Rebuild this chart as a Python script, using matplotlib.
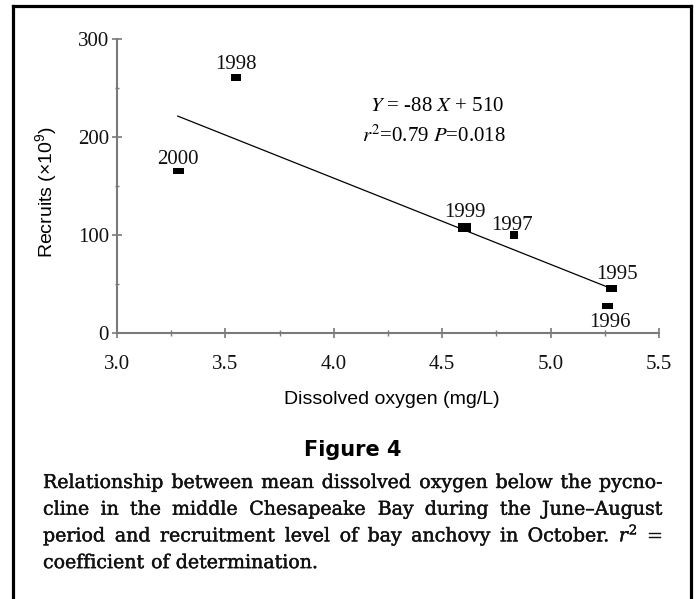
import matplotlib
matplotlib.use("Agg")
import matplotlib.pyplot as plt
import matplotlib.patheffects as pe
from matplotlib.path import Path
from matplotlib.lines import Line2D
from matplotlib.ticker import MultipleLocator, FormatStrFormatter

# ---------------- data ----------------
years = ["1995", "1996", "1997", "1998", "1999", "2000"]
oxygen = [5.28, 5.26, 4.83, 3.55, 4.60, 3.28]        # mg/L
recruits = [46, 28, 100, 261, 108, 165]             # x10^9
fit_slope = -88
fit_intercept = 510
fit_x_range = [3.28, 5.27]
x_ticks = [3.0, 3.5, 4.0, 4.5, 5.0, 5.5]
y_ticks = [0, 100, 200, 300]
equation_text = "$Y$ = -88 $X$ + 510"
stats_text = "$r^{2}$=0.79 $P$=0.018"
fig_title = "Figure 4"
caption_lines = [
    "Relationship between mean dissolved oxygen below the pycno-",
    "cline in the middle Chesapeake Bay during the June\u2013August",
    "period and recruitment level of bay anchovy in October. $r^{\\mathregular{2}}$ =",
    "coefficient of determination.",
]

# ---------------- styles ----------------
# marker (width, height) in pixels and label centre offsets (points) per year
marker_px = {"1995": (11, 7), "1996": (11, 6), "1997": (8, 8),
             "1998": (10, 7), "1999": (13, 9), "2000": (11, 6)}
label_off = {"1995": (4.3, 10), "1996": (2, -12.2), "1997": (-1.4, 7.2),
             "1998": (0, 9.4), "1999": (0.7, 10.8), "2000": (0, 8.6)}

W_PX, H_PX = 700, 599
DPI = 100
AX_COL = "#7a7a7a"
SERIF = "Liberation Serif"
SANS = "Liberation Sans"

plt.rcParams["font.family"] = [SERIF, "DejaVu Sans"]
plt.rcParams["mathtext.fontset"] = "custom"
plt.rcParams["mathtext.rm"] = SANS

fig = plt.figure(figsize=(W_PX / DPI, H_PX / DPI), dpi=DPI)
fig.patch.set_facecolor("white")

# axes placement (pixel measurements of reference)
ax_l, ax_r, ax_t, ax_b = 117, 659, 39, 333
ax = fig.add_axes([ax_l / W_PX, 1 - ax_b / H_PX, (ax_r - ax_l) / W_PX, (ax_b - ax_t) / H_PX])
ax.set_xlim(x_ticks[0], x_ticks[-1])
ax.set_ylim(y_ticks[0], y_ticks[-1])
for s in ("top", "right"):
    ax.spines[s].set_visible(False)
for s in ("left", "bottom"):
    ax.spines[s].set_color(AX_COL)
    ax.spines[s].set_linewidth(1.5)
ax.set_xticks(x_ticks)
ax.set_yticks(y_ticks)
ax.xaxis.set_minor_locator(MultipleLocator(0.25))
ax.yaxis.set_minor_locator(MultipleLocator(50))
ax.xaxis.set_major_formatter(FormatStrFormatter("%.1f"))
ax.tick_params(axis="x", which="major", direction="inout", length=6.5, width=1.2,
               color=AX_COL, pad=12.5, labelsize=15, labelcolor="#111111")
ax.tick_params(axis="x", which="minor", direction="inout", length=4, width=1.0, color=AX_COL)
ax.tick_params(axis="y", which="major", direction="inout", length=7.5, width=1.2,
               color=AX_COL, pad=2, labelsize=15, labelcolor="#111111")
ax.tick_params(axis="y", which="minor", direction="inout", length=3.5, width=1.0, color=AX_COL)

# regression line
fx = list(fit_x_range)
fy = [fit_slope * v + fit_intercept for v in fx]
ax.plot(fx, fy, color="black", lw=0.9, zorder=2)

# points
for yr, xv, yv in zip(years, oxygen, recruits):
    w, h = marker_px[yr]
    r = h / w
    rect = Path([(-1, -r), (1, -r), (1, r), (-1, r), (-1, -r)],
                [Path.MOVETO, Path.LINETO, Path.LINETO, Path.LINETO, Path.CLOSEPOLY])
    ax.plot([xv], [yv], linestyle="none", marker=rect, markersize=w * 72 / DPI,
            markerfacecolor="black", markeredgecolor="black", markeredgewidth=0, zorder=3)
    ax.annotate(yr, (xv, yv), xytext=label_off[yr], textcoords="offset points",
                ha="center", va="center", fontsize=15,
                family=SERIF, color="#111111", zorder=4)

# equation text
ax.text(0.590, 0.770, equation_text, transform=ax.transAxes, ha="center", va="center",
        fontsize=15, family=SERIF, math_fontfamily="stix")
ax.text(0.585, 0.670, stats_text, transform=ax.transAxes, ha="center", va="center",
        fontsize=15, family=SERIF, math_fontfamily="stix")

# axis labels
ax.set_xlabel("Dissolved oxygen (mg/L)", fontsize=14, family=SANS)
ax.xaxis.set_label_coords((392 - ax_l) / (ax_r - ax_l), (ax_b - 399) / (ax_b - ax_t))
ax.xaxis.label.set_va("center")
ax.set_ylabel("Recruits (\u00d710$^{\\mathregular{9}}$)", fontsize=14, family=SANS)
ax.yaxis.set_label_coords((47 - ax_l) / (ax_r - ax_l), (ax_b - 192) / (ax_b - ax_t))
ax.yaxis.label.set_va("center")

# figure title
fig.text(353 / W_PX, 1 - 456 / H_PX, fig_title, ha="center", va="baseline",
         fontsize=15, family="DejaVu Sans", weight="bold")

# justified caption
renderer = fig.canvas.get_renderer()
cap_x0, cap_x1 = 43, 663
cap_base, cap_lead = 488, 26.7
cap_kw = dict(family="DejaVu Serif", math_fontfamily="dejavuserif", color="#111111",
              path_effects=[pe.withStroke(linewidth=0.3, foreground="#111111")])

cap_fs = 14.0
target = 0.98 * (cap_x1 - cap_x0)
for _ in range(3):
    probe = fig.text(0, 0, caption_lines[0], fontsize=cap_fs, **cap_kw)
    probe_w = probe.get_window_extent(renderer).width
    probe.remove()
    cap_fs *= target / probe_w

for i, line in enumerate(caption_lines):
    words = line.split(" ")
    y = 1 - (cap_base + i * cap_lead) / H_PX
    ts = [fig.text(0, y, wd, fontsize=cap_fs, ha="left", va="baseline", **cap_kw) for wd in words]
    ws = [t.get_window_extent(renderer).width for t in ts]
    if i == len(caption_lines) - 1:
        gap = cap_fs * 0.32 * DPI / 72
    else:
        gap = ((cap_x1 - cap_x0) - sum(ws)) / (len(words) - 1)
    x = cap_x0
    for t, w in zip(ts, ws):
        t.set_x(x / W_PX)
        x += w + gap

# outer frame (open at bottom, extends past figure edge)
lw_frame = 2.3
fig.add_artist(Line2D([13 / W_PX, 13 / W_PX], [-0.05, 1 - 5.5 / H_PX], color="black", lw=lw_frame,
                      transform=fig.transFigure, solid_capstyle="projecting"))
fig.add_artist(Line2D([13 / W_PX, 691 / W_PX], [1 - 5.5 / H_PX, 1 - 5.5 / H_PX], color="black",
                      lw=lw_frame, transform=fig.transFigure, solid_capstyle="projecting"))
fig.add_artist(Line2D([691 / W_PX, 691 / W_PX], [1 - 5.5 / H_PX, -0.05], color="black", lw=lw_frame,
                      transform=fig.transFigure, solid_capstyle="projecting"))

fig.savefig("out.png", dpi=DPI, facecolor="white")
